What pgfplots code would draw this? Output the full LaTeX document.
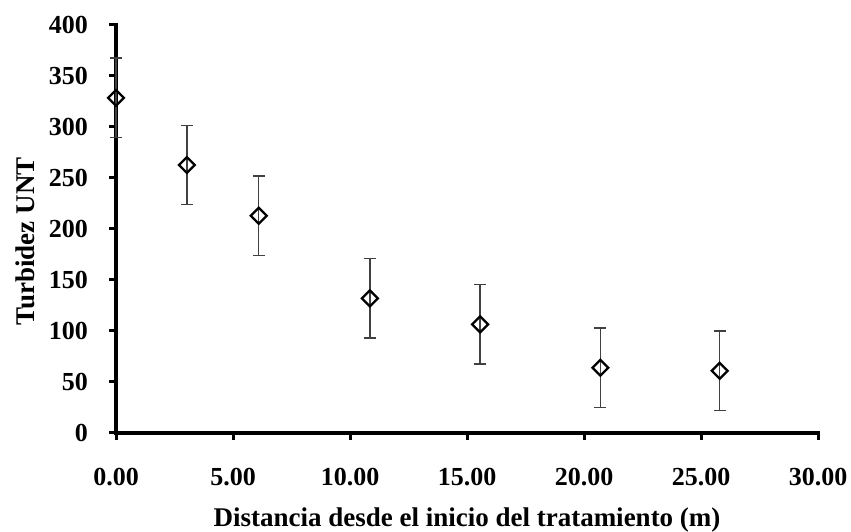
\documentclass[border=0pt]{standalone}
\usepackage{pgfplots}
\pgfplotsset{compat=1.18}
\usepackage{fontspec}
\setmainfont{Liberation Serif}
\begin{document}
\begin{tikzpicture}[x=1pt,y=1pt]
\useasboundingbox (0,0) rectangle (851,532);
\begin{axis}[
  at={(116pt,99pt)}, anchor=south west,
  scale only axis, width=702pt, height=408pt,
  xmin=0, xmax=30, ymin=0, ymax=400,
  axis lines*=left,
  axis line style={line width=3.2pt, line cap=rect},
  xtick={0,5,...,30}, ytick={0,50,...,400},
  tick align=outside, major tick length=7pt,
  tick style={line width=3pt, black},
  /pgf/number format/assume math mode=true,
  xticklabel style={/pgf/number format/fixed, /pgf/number format/fixed zerofill, /pgf/number format/precision=2},
  yticklabel style={/pgf/number format/fixed},
  ticklabel style={font=\fontsize{26}{28}\selectfont\bfseries, inner sep=0pt},
  xticklabel style={anchor=north, yshift=-28pt},
  yticklabel style={anchor=east, xshift=-21pt},
  xlabel={Distancia desde el inicio del tratamiento (m)},
  ylabel={Turbidez UNT},
  label style={font=\fontsize{27}{29}\selectfont\bfseries, inner sep=0pt},
  xlabel style={at={(axis description cs:0.5,0)}, anchor=base, yshift=-94pt},
  ylabel style={at={(axis description cs:0,0.47)}, anchor=south, yshift=81pt},
  clip=false,
]
\addplot[only marks, mark=square, mark size=5.6pt,
  mark options={rotate=45, line width=2.3pt, draw=black, fill=white},
  error bars/.cd, y dir=both, y explicit,
  error mark options={rotate=90, mark size=6pt, line width=1.3pt, draw=black!75},
  error bar style={line width=1.3pt, draw=black!75}]
coordinates {
  (0.0,328.5) +- (0,39)
  (3.03,262.7) +- (0,39)
  (6.1,213) +- (0,39)
  (10.85,132) +- (0,39)
  (15.56,106.5) +- (0,39)
  (20.7,64) +- (0,39)
  (25.8,61) +- (0,39)
};
\end{axis}
\end{tikzpicture}
\end{document}
